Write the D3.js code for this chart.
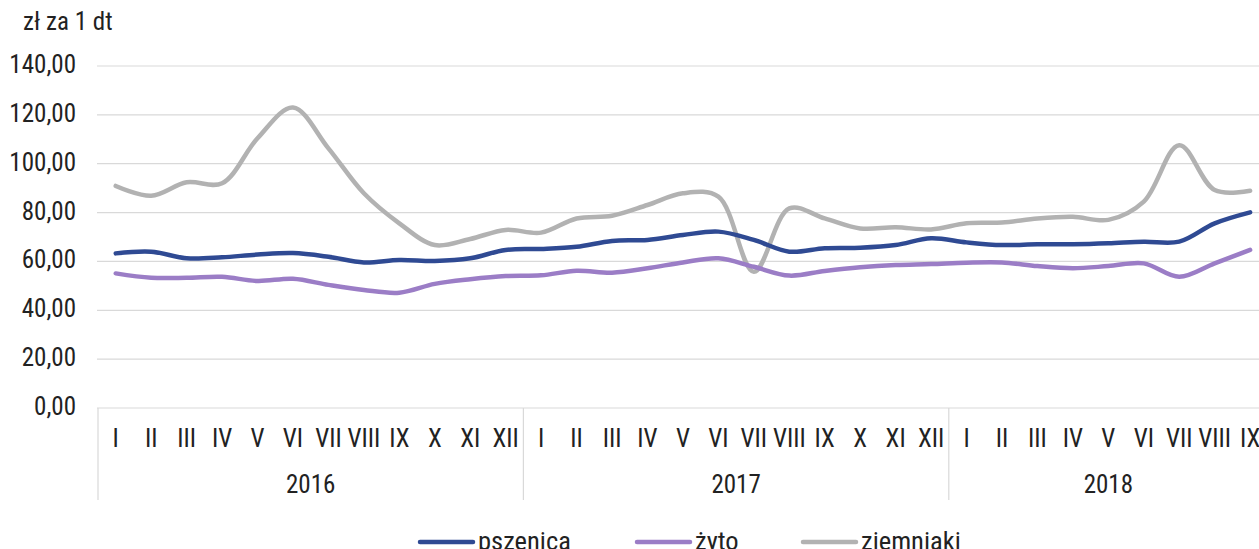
<!DOCTYPE html>
<html>
<head>
<meta charset="utf-8">
<script src="https://cdn.jsdelivr.net/npm/d3@7"></script>
<style>
  body { margin: 0; background: #fff; }
  text { font-family: "Roboto Condensed", "DejaVu Sans Condensed", sans-serif; fill: #222; }
</style>
</head>
<body>
<div id="chart"></div>
<script>
var years = ["2016", "2017", "2018"];
var monthsPerYear = [12, 12, 9];
var monthNames = ["I","II","III","IV","V","VI","VII","VIII","IX","X","XI","XII"];
var yTicks = [0, 20, 40, 60, 80, 100, 120, 140];

var pszenica = [63.3, 64.0, 61.3, 61.7, 62.8, 63.4, 61.9, 59.6, 60.6, 60.2, 61.3, 64.7,
                65.1, 66.0, 68.4, 68.8, 70.8, 72.2, 68.8, 64.0, 65.4, 65.6, 66.7, 69.5,
                67.8, 66.7, 67.0, 67.0, 67.4, 68.1, 68.1, 75.6, 80.1];
var zyto = [55.1, 53.3, 53.3, 53.7, 52.0, 52.9, 50.4, 48.3, 47.2, 50.8, 52.7, 54.0,
            54.3, 56.2, 55.4, 57.2, 59.6, 61.3, 57.8, 54.2, 56.1, 57.6, 58.5, 58.9,
            59.5, 59.6, 58.1, 57.2, 58.1, 59.2, 53.7, 59.2, 64.7];
var ziemniaki = [90.9, 86.9, 92.4, 92.0, 110.4, 123.0, 106.3, 87.9, 75.6, 66.7, 69.2, 72.9,
                 71.8, 77.6, 78.7, 83.1, 87.9, 86.5, 55.8, 81.7, 77.6, 73.5, 74.0, 73.1,
                 75.6, 75.9, 77.6, 78.3, 77.0, 84.5, 107.6, 89.2, 88.9];

var series = [
  {name: "pszenica", values: pszenica, color: "#2f4a93"},
  {name: "żyto", values: zyto, color: "#9b7dc6"},
  {name: "ziemniaki", values: ziemniaki, color: "#b2b2b2"}
];

// build category keys year-month
var cats = [];
years.forEach(function(y, yi) {
  for (var m = 0; m < monthsPerYear[yi]; m++) cats.push({year: y, month: monthNames[m], key: y + "-" + monthNames[m]});
});

var width = 1259, height = 549;
var plotLeft = 98, bandW = 35.45;
var plotTop = 66, plotBottom = 408;
var fs = "25px";

var svg = d3.select("#chart").append("svg")
  .attr("width", width).attr("height", height);

var x = d3.scaleBand().domain(cats.map(d => d.key))
  .range([plotLeft, plotLeft + bandW * cats.length]).padding(0);
var y = d3.scaleLinear().domain([0, 140]).range([plotBottom, plotTop]);

// gridlines
svg.append("g").selectAll("line").data(yTicks).enter().append("line")
  .attr("x1", plotLeft - 1).attr("x2", width)
  .attr("y1", d => y(d)).attr("y2", d => y(d))
  .attr("stroke", "#d9d9d9").attr("stroke-width", 1.2);

// y labels
svg.append("g").selectAll("text").data(yTicks).enter().append("text")
  .attr("x", 76).attr("y", d => y(d) + 7)
  .attr("text-anchor", "end")
  .style("font-size", fs)
  .text(d => d.toFixed(2).replace(".", ","));

svg.append("text").attr("x", 23).attr("y", 30)
  .style("font-size", fs).text("zł za 1 dt");

// separators between years
var bounds = [0];
var acc = 0;
monthsPerYear.forEach(function(n) { acc += n; bounds.push(acc); });
svg.append("g").selectAll("line").data(bounds.slice(0, 3)).enter().append("line")
  .attr("x1", d => plotLeft + bandW * d).attr("x2", d => plotLeft + bandW * d)
  .attr("y1", plotBottom).attr("y2", 500)
  .attr("stroke", "#d9d9d9").attr("stroke-width", 1.2);

// month labels
svg.append("g").selectAll("text").data(cats).enter().append("text")
  .attr("x", d => x(d.key) + x.bandwidth() / 2)
  .attr("y", 447)
  .attr("text-anchor", "middle")
  .style("font-size", fs)
  .text(d => d.month);

// year labels
svg.append("g").selectAll("text").data(years).enter().append("text")
  .attr("x", (d, i) => plotLeft + bandW * (bounds[i] + bounds[i + 1]) / 2)
  .attr("y", 493)
  .attr("text-anchor", "middle")
  .style("font-size", fs)
  .text(d => d);

// lines
var line = d3.line()
  .x((d, i) => x(cats[i].key) + x.bandwidth() / 2)
  .y(d => y(d))
  .curve(d3.curveCatmullRom.alpha(0.5));

svg.append("g").selectAll("path").data(series.slice().reverse()).enter().append("path")
  .attr("d", d => line(d.values))
  .attr("fill", "none")
  .attr("stroke", d => d.color)
  .attr("stroke-width", 4.5)
  .attr("stroke-linecap", "round");

// legend
var legendX = [420, 637, 803];
var legendLen = 53;
var lg = svg.append("g").selectAll("g").data(series).enter().append("g");
lg.append("line")
  .attr("x1", (d, i) => legendX[i]).attr("x2", (d, i) => legendX[i] + legendLen)
  .attr("y1", 542).attr("y2", 542)
  .attr("stroke", d => d.color).attr("stroke-width", 4.5).attr("stroke-linecap", "round");
lg.append("text")
  .attr("x", (d, i) => legendX[i] + legendLen + 5)
  .attr("y", 550)
  .style("font-size", "26.5px")
  .text(d => d.name);
</script>
</body>
</html>
